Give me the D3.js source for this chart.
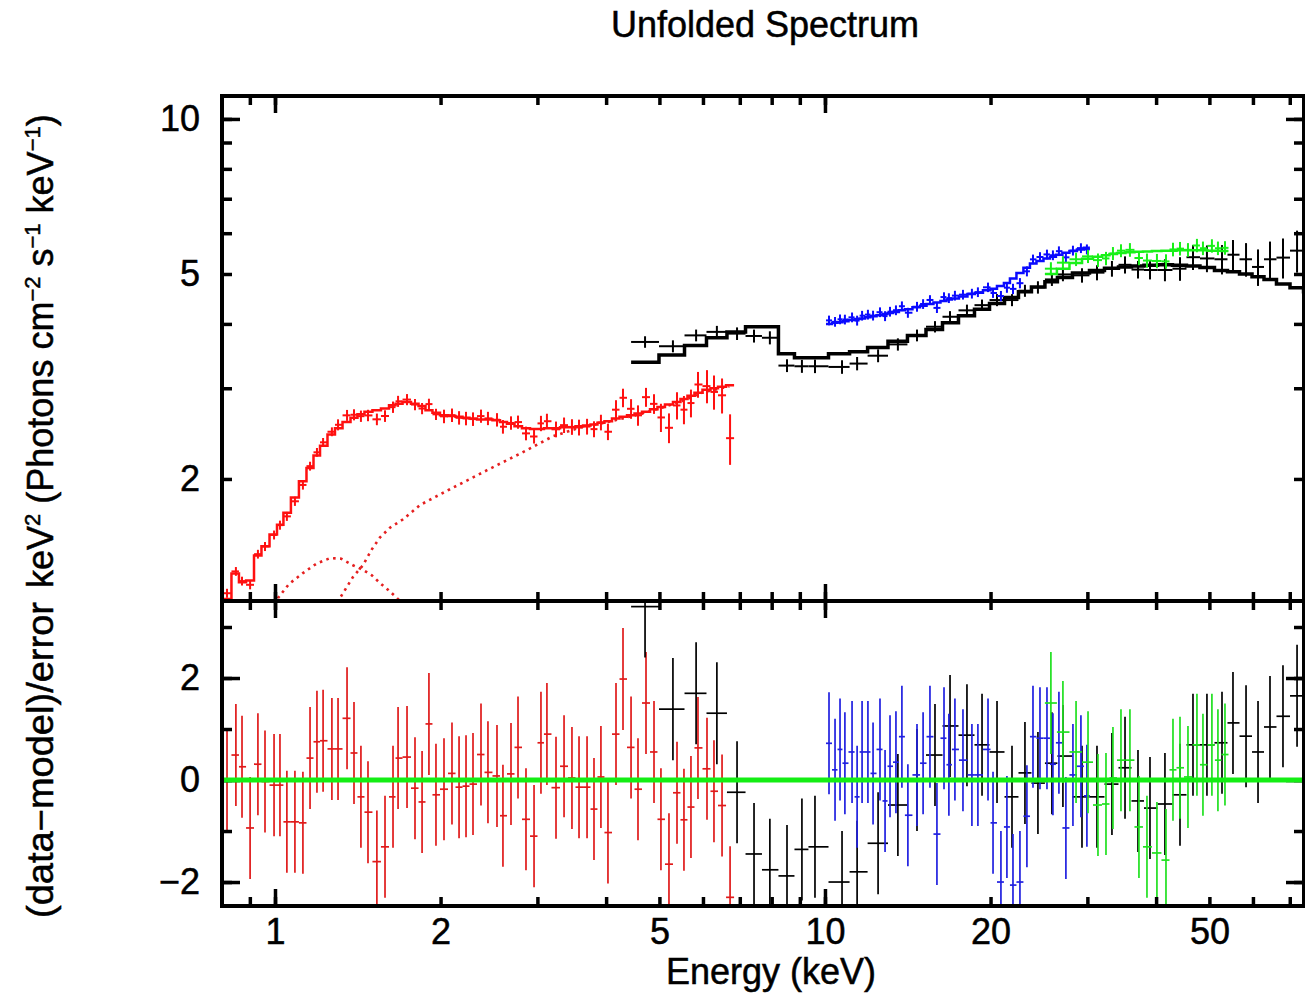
<!DOCTYPE html>
<html><head><meta charset="utf-8">
<script src="https://cdn.jsdelivr.net/npm/d3@7"></script>
<style>
body{margin:0;background:#fff;}
text{font-family:"Liberation Sans",Arial,Helvetica,sans-serif;}
</style>
</head><body>
<svg id="chart" width="1305" height="995"></svg>
<script>
// ---------------- DATA ----------------
const title = "Unfolded Spectrum";
const xTitle = "Energy (keV)";

// red (low-energy instrument)
const redE = [0.818,0.849,0.871,0.901,0.931,0.959,0.996,1.021,1.051,1.087,1.124,1.158,1.192,1.223,1.269,1.302,1.352,1.392,1.433,1.476,1.532,1.585,1.639,1.674,1.738,1.797,1.851,1.905,1.962,2.029,2.098,2.161,2.225,2.291,2.369,2.439,2.533,2.597,2.686,2.766,2.860,2.958,3.045,3.122,3.243,3.354,3.467,3.571,3.693,3.802,3.914,4.031,4.169,4.293,4.440,4.571,4.727,4.888,5.032,5.204,5.382,5.541,5.706,5.876,6.102,6.283,6.499,6.721];
const redFlux = [1.20,1.323,1.267,1.246,1.429,1.479,1.557,1.627,1.692,1.810,1.947,2.118,2.253,2.356,2.470,2.548,2.658,2.665,2.648,2.657,2.611,2.650,2.757,2.830,2.852,2.789,2.740,2.795,2.670,2.646,2.660,2.629,2.621,2.614,2.649,2.622,2.606,2.526,2.569,2.579,2.452,2.418,2.564,2.589,2.497,2.544,2.524,2.518,2.528,2.499,2.575,2.470,2.726,2.875,2.737,2.658,2.883,2.798,2.633,2.514,2.778,2.726,2.808,3.051,3.029,2.951,2.907,2.40];
const redErr = [0.024,0.026,0.025,0.025,0.028,0.030,0.031,0.033,0.034,0.037,0.040,0.042,0.044,0.046,0.049,0.063,0.065,0.066,0.067,0.068,0.068,0.069,0.070,0.070,0.071,0.070,0.069,0.068,0.067,0.080,0.080,0.079,0.079,0.079,0.078,0.078,0.078,0.077,0.077,0.076,0.075,0.075,0.088,0.088,0.088,0.088,0.088,0.089,0.089,0.089,0.090,0.091,0.118,0.119,0.120,0.121,0.122,0.123,0.166,0.167,0.169,0.172,0.174,0.176,0.224,0.225,0.227,0.27];
const redModel = [1.17,1.31,1.26,1.27,1.42,1.48,1.56,1.63,1.72,1.84,1.98,2.10,2.22,2.32,2.44,2.51,2.58,2.63,2.67,2.70,2.72,2.74,2.78,2.80,2.82,2.80,2.77,2.72,2.69,2.66,2.65,2.64,2.63,2.62,2.61,2.61,2.60,2.58,2.56,2.53,2.51,2.50,2.50,2.51,2.51,2.52,2.52,2.53,2.54,2.55,2.57,2.59,2.62,2.64,2.66,2.68,2.70,2.73,2.76,2.79,2.82,2.86,2.90,2.94,2.98,3.00,3.02,3.04];
const redResid = [0.0,0.49,0.26,-0.94,0.31,-0.03,-0.10,-0.10,-0.82,-0.82,-0.84,0.43,0.75,0.77,0.61,0.61,1.21,0.53,-0.33,-0.63,-1.6,-1.31,-0.33,0.43,0.45,-0.16,-0.43,1.10,-0.29,-0.18,0.13,-0.14,-0.12,-0.08,0.50,0.15,0.08,-0.70,0.12,0.64,-0.77,-1.10,0.73,0.90,-0.15,0.27,0.04,-0.14,-0.14,-0.57,0.06,-1.03,0.90,1.98,0.64,-0.18,1.51,0.55,-0.77,-1.65,-0.25,-0.78,-0.53,0.63,0.22,-0.22,-0.50,-2.30];

// red model components (dotted)
const comp1E = [1.0,1.013,1.06,1.124,1.19,1.259,1.32,1.386,1.445,1.50,1.552,1.61,1.666,1.70];
const comp1V = [1.14,1.175,1.25,1.313,1.37,1.404,1.40,1.36,1.332,1.30,1.256,1.215,1.175,1.15];
const comp2E = [1.30,1.313,1.386,1.445,1.50,1.552,1.62,1.71,1.835,2.08,2.43,2.79,3.2,3.6,4.0,4.5,5.0,5.5,6.0,6.7];
const comp2V = [1.15,1.175,1.29,1.36,1.46,1.54,1.61,1.67,1.78,1.91,2.08,2.24,2.42,2.52,2.575,2.655,2.74,2.835,2.945,3.025];

// black
const blackE = [4.708,5.291,5.83,6.36,6.92,7.43,7.94,8.53,9.08,9.59,10.74,11.44,12.49,13.57,14.70,15.85,16.88,18.12,19.30,20.55,21.88,23.10,24.39,25.86,27.08,29.33,31.23,33.25,35.12,37.08,38.99,41.51,44.21,46.68,49.49,52.71,55.19,58.29,61.29,64.44,68.04,72.17,76.2];
const blackFlux = [3.69,3.62,3.80,3.86,3.83,3.79,3.76,3.32,3.31,3.31,3.30,3.35,3.47,3.65,3.80,3.95,4.13,4.25,4.35,4.45,4.45,4.64,4.71,4.88,4.99,4.97,5.03,5.12,5.21,5.10,5.09,5.09,5.12,5.39,5.36,5.34,5.45,5.34,5.16,5.34,5.38,5.55,5.9];
const blackErr = [0.095,0.097,0.10,0.105,0.108,0.11,0.11,0.095,0.096,0.10,0.10,0.10,0.10,0.10,0.10,0.10,0.105,0.11,0.11,0.12,0.12,0.125,0.13,0.14,0.15,0.16,0.17,0.18,0.2,0.2,0.21,0.25,0.27,0.3,0.32,0.35,0.37,0.40,0.42,0.44,0.48,0.52,0.55];
const blackModel = [3.37,3.48,3.63,3.76,3.86,3.95,3.95,3.50,3.44,3.44,3.50,3.53,3.60,3.70,3.80,3.90,4.02,4.15,4.27,4.38,4.50,4.62,4.72,4.83,4.92,5.02,5.08,5.13,5.16,5.18,5.20,5.21,5.20,5.18,5.15,5.08,5.05,5.00,4.94,4.88,4.78,4.70,4.62];
const blackResid = [3.4,1.39,1.7,1.31,-0.24,-1.45,-1.76,-1.88,-1.36,-1.31,-2.0,-1.8,-1.24,-0.49,0.0,0.49,1.06,0.88,0.69,0.55,-0.33,0.14,-0.06,0.33,0.47,-0.33,-0.33,-0.08,0.24,-0.41,-0.55,-0.47,-0.29,0.69,0.69,0.73,1.12,0.86,0.55,1.04,1.25,1.65,2.04];

// blue
const blueE = [10.17,10.43,10.65,10.87,11.20,11.44,11.68,11.97,12.23,12.59,12.86,13.13,13.46,13.80,14.15,14.70,15.08,15.52,15.98,16.46,16.80,17.23,17.82,18.50,18.97,19.79,20.21,20.89,21.42,21.97,22.62,23.29,23.89,24.60,25.33,25.97,26.63,27.42,28.24,29.20,29.94];
const blueFlux = [4.063,4.038,4.083,4.079,4.119,4.060,4.150,4.170,4.152,4.215,4.142,4.225,4.252,4.329,4.205,4.319,4.372,4.452,4.297,4.510,4.489,4.539,4.559,4.580,4.610,4.711,4.593,4.531,4.703,4.678,4.799,5.060,5.338,5.395,5.457,5.437,5.537,5.386,5.552,5.613,5.582];
const blueErr = [0.088,0.088,0.089,0.089,0.090,0.090,0.090,0.091,0.091,0.092,0.092,0.092,0.093,0.094,0.094,0.095,0.095,0.096,0.097,0.097,0.098,0.099,0.099,0.10,0.10,0.10,0.10,0.104,0.106,0.108,0.11,0.113,0.115,0.117,0.118,0.119,0.12,0.121,0.122,0.123,0.124];
const blueModel = [4.00,4.02,4.03,4.05,4.07,4.09,4.10,4.12,4.14,4.16,4.18,4.20,4.22,4.25,4.27,4.31,4.34,4.37,4.40,4.43,4.46,4.48,4.52,4.57,4.60,4.65,4.68,4.74,4.80,4.90,5.02,5.14,5.24,5.30,5.36,5.40,5.45,5.50,5.54,5.58,5.62];
const blueResid = [0.72,0.2,0.6,0.33,0.55,-0.33,0.55,0.55,0.13,0.6,-0.41,0.27,0.35,0.85,-0.69,0.1,0.33,0.85,-1.06,0.82,0.3,0.6,0.39,0.1,0.1,0.6,-0.84,-2.0,-0.92,-2.06,-2.0,-0.71,0.85,0.82,0.82,0.31,0.73,-0.94,0.1,0.27,-0.31];

// green
const greenE = [25.75,27.08,28.61,30.08,31.36,32.43,33.39,34.53,35.85,37.23,38.50,40.14,41.69,42.93,44.21,45.71,47.46,48.67,50.53,51.82,53.37];
const greenFlux = [5.12,5.26,5.34,5.41,5.32,5.36,5.48,5.55,5.57,5.37,5.31,5.30,5.29,5.58,5.60,5.57,5.68,5.61,5.67,5.61,5.62];
const greenErr = [0.15,0.15,0.16,0.16,0.16,0.16,0.16,0.16,0.17,0.17,0.17,0.17,0.17,0.17,0.17,0.17,0.17,0.17,0.17,0.17,0.17];
const greenModel = [5.00,5.12,5.25,5.35,5.40,5.44,5.47,5.49,5.51,5.52,5.53,5.54,5.55,5.55,5.56,5.56,5.56,5.56,5.55,5.55,5.54];
const greenResid = [1.51,0.94,0.55,0.35,-0.49,-0.47,0.04,0.39,0.39,-0.92,-1.31,-1.43,-1.57,0.2,0.24,0.06,0.69,0.3,0.69,0.39,0.5];

// ticks
const xMajorTicks = [1, 10];
const xAllTicks = [0.9,1,2,3,4,5,6,7,8,9,10,20,30,40,50,60,70];
const xLabelTicks = [1,2,5,10,20,50];
const yTopMajor = [10];
const yTopAll = [2,3,4,5,6,7,8,9,10];
const yTopLabels = [2,5,10];
const yBotMajor = [-2,0,2];
const yBotAll = [-2,-1,0,1,2,3];
const yBotLabels = [-2,0,2];

// ---------------- LAYOUT ----------------
const L = 222, R = 1304, T = 96, M = 601, B = 906;
const FONT = 36;
const svg = d3.select("#chart");

const x = d3.scaleLog().domain([0.801, 74.3]).range([L, R]);
const yT = d3.scaleLog().domain([1.159, 11.08]).range([M, T]);
const yB = d3.scaleLinear().domain([-2.47, 3.51]).range([B, M]);

const defs = svg.append("defs");
defs.append("clipPath").attr("id","clipT").append("rect").attr("x",L).attr("y",T).attr("width",R-L).attr("height",M-T);
defs.append("clipPath").attr("id","clipB").append("rect").attr("x",L).attr("y",M).attr("width",R-L).attr("height",B-M);

const gTop = svg.append("g").attr("clip-path","url(#clipT)");
const gBot = svg.append("g").attr("clip-path","url(#clipB)");

function edges(E){
  return E.map((e,i)=>{
    const lo = i>0 ? Math.sqrt(E[i-1]*e) : e*e/Math.sqrt(e*E[i+1]);
    const hi = i<E.length-1 ? Math.sqrt(e*E[i+1]) : e*e/Math.sqrt(E[i-1]*e);
    return [lo,hi];
  });
}

const series = [
  {E:redE, F:redFlux, S:redErr, Mo:redModel, Rs:redResid, color:"#ff1010", rcolor:"#e01a1a", mw:2.5},
  {E:blackE, F:blackFlux, S:blackErr, Mo:blackModel, Rs:blackResid, color:"#000000", rcolor:"#000000", mw:3.5},
  {E:blueE, F:blueFlux, S:blueErr, Mo:blueModel, Rs:blueResid, color:"#0a0aff", rcolor:"#2020e0", mw:2.5},
  {E:greenE, F:greenFlux, S:greenErr, Mo:greenModel, Rs:greenResid, color:"#18f018", rcolor:"#20e020", mw:2.5}
];

// dotted components (red)
const compLine = d3.line().x(p=>x(p[0])).y(p=>yT(p[1]));
[[comp1E,comp1V],[comp2E,comp2V]].forEach(([E,V])=>{
  gTop.append("path")
    .attr("d", compLine(E.map((e,i)=>[e,V[i]])))
    .attr("fill","none").attr("stroke","#e52020").attr("stroke-width",2.6)
    .attr("stroke-dasharray","2.6,4.4");
});

const stepLine = d3.line().x(p=>x(p[0])).y(p=>yT(p[1]));

series.forEach(s=>{
  const ed = edges(s.E);
  const d = s.E.map((e,i)=>({e, lo:ed[i][0], hi:ed[i][1], f:s.F[i], err:s.S[i], m:s.Mo[i], r:s.Rs[i]}));
  gTop.append("path")
    .attr("d", stepLine(d.flatMap(q=>[[q.lo,q.m],[q.hi,q.m]])))
    .attr("fill","none").attr("stroke",s.color).attr("stroke-width",s.mw);
  const g = gTop.append("g").attr("stroke",s.color).attr("stroke-width",2);
  g.selectAll("line.h").data(d).join("line").attr("class","h")
    .attr("x1",q=>x(q.lo)).attr("x2",q=>x(q.hi)).attr("y1",q=>yT(q.f)).attr("y2",q=>yT(q.f));
  g.selectAll("line.v").data(d).join("line").attr("class","v")
    .attr("x1",q=>x(q.e)).attr("x2",q=>x(q.e)).attr("y1",q=>yT(q.f-q.err)).attr("y2",q=>yT(q.f+q.err));
  const gr = gBot.append("g").attr("stroke",s.rcolor).attr("stroke-width",1.7);
  gr.selectAll("line.h").data(d).join("line").attr("class","h")
    .attr("x1",q=>x(q.lo)).attr("x2",q=>x(q.hi)).attr("y1",q=>yB(q.r)).attr("y2",q=>yB(q.r));
  gr.selectAll("line.v").data(d).join("line").attr("class","v")
    .attr("x1",q=>x(q.e)).attr("x2",q=>x(q.e)).attr("y1",q=>yB(q.r-1)).attr("y2",q=>yB(q.r+1));
});

// ---------------- AXES ----------------
const fmtMinus = v => (v<0 ? "\u2212"+Math.abs(v) : String(v));
function styleAxis(g){
  g.attr("font-size",FONT).attr("font-family",'"Liberation Sans",Arial,Helvetica,sans-serif');
  g.select(".domain").remove();
  g.selectAll(".tick line").attr("stroke","#000").attr("stroke-width",3.5);
  g.selectAll(".tick text").attr("fill","#000").attr("stroke","#000").attr("stroke-width",0.5);
}
const MINOR = 9, MAJOR = 17;
[[T,"top"],[M,"topPanelBottom"],[M,"botPanelTop"],[B,"bottom"]].forEach(([yy,kind])=>{
  const goesDown = (kind==="top" || kind==="botPanelTop");
  const mk = (vals,size,lab)=>{
    const ax = (goesDown ? d3.axisTop(x) : d3.axisBottom(x))
      .tickValues(vals).tickSize(-size).tickPadding(12)
      .tickFormat(v => lab && xLabelTicks.includes(v) ? String(v) : "");
    svg.append("g").attr("transform",`translate(0,${yy})`).call(ax).call(styleAxis);
  };
  mk(xAllTicks, MINOR, kind==="bottom");
  mk(xMajorTicks, MAJOR, false);
});
const mkY = (scale, vals, size, labels, side)=>{
  const ax = (side==="left" ? d3.axisLeft(scale) : d3.axisRight(scale))
    .tickValues(vals).tickSize(-size).tickPadding(22)
    .tickFormat(v => labels && labels.includes(v) ? fmtMinus(v) : "");
  svg.append("g").attr("transform",`translate(${side==="left"?L:R},0)`).call(ax).call(styleAxis);
};
mkY(yT, yTopAll, 10, yTopLabels, "left");
mkY(yT, yTopMajor, 18, null, "left");
mkY(yT, yTopAll, 10, null, "right");
mkY(yT, yTopMajor, 18, null, "right");
mkY(yB, yBotAll, 10, yBotLabels, "left");
mkY(yB, yBotMajor, 18, null, "left");
mkY(yB, yBotAll, 10, null, "right");
mkY(yB, yBotMajor, 18, null, "right");

// zero line (drawn above the axis ticks, like the reference)
svg.append("line").attr("x1",L).attr("x2",R).attr("y1",yB(0)).attr("y2",yB(0))
  .attr("stroke","#14ee14").attr("stroke-width",5);

// frame
svg.append("rect").attr("x",L).attr("y",T).attr("width",R-L).attr("height",B-T)
  .attr("fill","none").attr("stroke","#000").attr("stroke-width",4);
svg.append("line").attr("x1",L).attr("x2",R).attr("y1",M).attr("y2",M)
  .attr("stroke","#000").attr("stroke-width",4);

// ---------------- TEXT ----------------
const txt = sel => sel.attr("font-size",FONT).attr("fill","#000").attr("stroke","#000").attr("stroke-width",0.5);
svg.append("text").attr("x",765).attr("y",37).attr("text-anchor","middle").call(txt).text(title);
svg.append("text").attr("x",771).attr("y",984).attr("text-anchor","middle").call(txt).text(xTitle);

svg.append("text").attr("transform","translate(53,918) rotate(-90)").call(txt)
  .attr("textLength",316).attr("lengthAdjust","spacingAndGlyphs").text("(data\u2212model)/error");
const yl = svg.append("text").attr("transform","translate(53,588) rotate(-90)").call(txt);
const parts = [["keV",0],["2",1],[" (Photons cm",0],["\u22122",1],[" s",0],["\u22121",1],[" keV",0],["\u22121",1],[")",0]];
let prevSup = 0;
parts.forEach(([t,sup])=>{
  const ts = yl.append("tspan").text(t);
  if(sup){ ts.attr("font-size",22).attr("dy", prevSup? 0 : -13); }
  else { ts.attr("dy", prevSup? 13 : 0); }
  prevSup = sup;
});
</script>
</body></html>
